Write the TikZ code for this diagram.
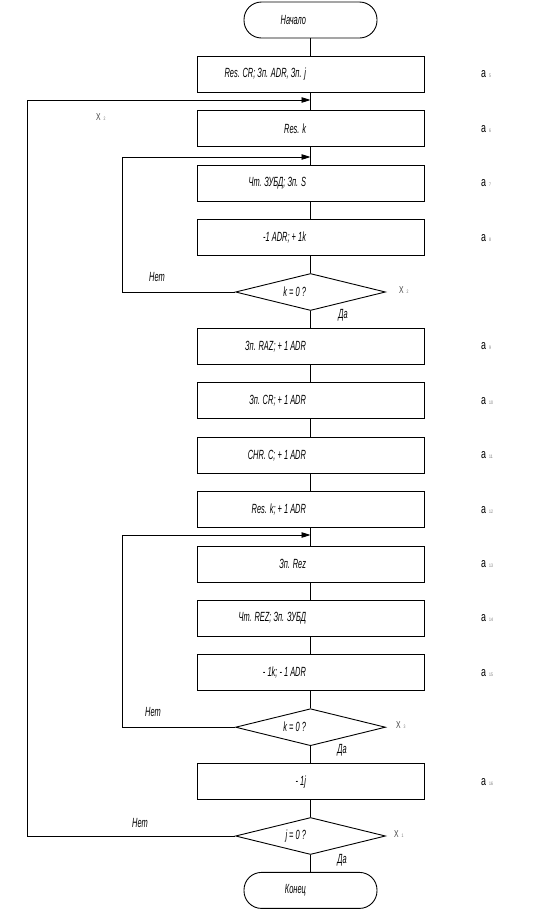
\documentclass[tikz,border=0pt]{standalone}
\usepackage{fontspec}
\setmainfont{Liberation Sans}
\newfontfamily\narrowit[FakeStretch=0.56]{Liberation Sans Italic}
\newfontfamily\narrowup[FakeStretch=0.68]{Liberation Sans}
\usetikzlibrary{shapes.geometric,arrows.meta}
\newcommand{\rtx}[1]{\llap{#1\hspace{4.5pt}}}
\newcommand{\stg}[1]{a\hspace{3pt}{\color{black!55}\fontsize{5}{5}\selectfont #1}}
\newcommand{\xsg}[1]{X\hspace{3pt}{\color{black!55}\fontsize{5}{5}\selectfont #1}}
\tikzset{
  base/.style={draw, line width=0.9pt, inner sep=0pt, font=\narrowit\fontsize{13.3}{13.3}\selectfont},
  procbox/.style={base, rectangle, minimum width=227pt, minimum height=36pt},
  termbox/.style={base, rectangle, rounded corners=17.5pt, minimum width=133pt, minimum height=36pt},
  decbox/.style={base, diamond, aspect=4, minimum width=150pt, minimum height=37pt},
  flow/.style={line width=0.9pt},
  back/.style={line width=0.9pt, -{Triangle[length=9pt,width=5.5pt]}},
  tag/.style={font=\narrowup\fontsize{13}{13}\selectfont, inner sep=0pt, anchor=west},
  xtag/.style={font=\narrowup\fontsize{10}{10}\selectfont, inner sep=0pt, anchor=west, text=black!75},
  ans/.style={font=\narrowit\fontsize{13.3}{13.3}\selectfont, inner sep=0pt},
}
\begin{document}
\begin{tikzpicture}[x=1pt,y=-1pt]
\useasboundingbox (0,0) rectangle (540,911);
% nodes
\node[termbox] (st) at (310.5,20) {\rtx{Начало}};
\node[procbox] (b1) at (310.5,74.4) {\rtx{Res. CR; Зп. ADR, Зп. j}};
\node[procbox] (b2) at (310.5,128.8) {\rtx{Res. k}};
\node[procbox] (b3) at (310.5,183.2) {\rtx{Чт. ЗУБД; Зп. S}};
\node[procbox] (b4) at (310.5,237.6) {\rtx{-1 ADR; + 1k}};
\node[decbox] (d1) at (310.5,292) {\rtx{k = 0 ?}};
\node[procbox] (b5) at (310.5,346.4) {\rtx{Зп. RAZ; + 1 ADR}};
\node[procbox] (b6) at (310.5,400.8) {\rtx{Зп. CR; + 1 ADR}};
\node[procbox] (b7) at (310.5,455.2) {\rtx{CHR. C; + 1 ADR}};
\node[procbox] (b8) at (310.5,509.6) {\rtx{Res. k; + 1 ADR}};
\node[procbox] (b9) at (310.5,564) {\rtx{Зп. Rez}};
\node[procbox] (b10) at (310.5,618.4) {\rtx{Чт. REZ; Зп. ЗУБД}};
\node[procbox] (b11) at (310.5,672.8) {\rtx{- 1k; - 1 ADR}};
\node[decbox] (d2) at (310.5,727.2) {\rtx{k = 0 ?}};
\node[procbox] (b12) at (310.5,781.6) {\rtx{- 1j}};
\node[decbox] (d3) at (310.5,836) {\rtx{j = 0 ?}};
\node[termbox] (en) at (310.5,890.4) {\rtx{Конец}};
% merge points and corners
\coordinate (m1) at (310.5,100);
\coordinate (m2) at (310.5,157);
\coordinate (m3) at (310.5,535);
\coordinate (c1) at (27,100);
\coordinate (c2) at (122,157);
\coordinate (c3) at (122,535);
% main flow
\draw[flow] (st) -- (b1);
\draw[flow] (b1) -- (b2);
\draw[flow] (b2) -- (b3);
\draw[flow] (b3) -- (b4);
\draw[flow] (b4) -- (d1);
\draw[flow] (d1) -- (b5);
\draw[flow] (b5) -- (b6);
\draw[flow] (b6) -- (b7);
\draw[flow] (b7) -- (b8);
\draw[flow] (b8) -- (b9);
\draw[flow] (b9) -- (b10);
\draw[flow] (b10) -- (b11);
\draw[flow] (b11) -- (d2);
\draw[flow] (d2) -- (b12);
\draw[flow] (b12) -- (d3);
\draw[flow] (d3) -- (en);
% loops
\draw[back] (d1.west) -| (c2) -- (m2);
\draw[back] (d2.west) -| (c3) -- (m3);
\draw[back] (d3.west) -| (c1) -- (m1);
% answers
\node[ans] (n1) at (157,277) {Нет};
\node[ans] (y1) at (343,315) {Да};
\node[ans] (n2) at (153,712) {Нет};
\node[ans] (y2) at (342,750) {Да};
\node[ans] (n3) at (140,823) {Нет};
\node[ans] (y3) at (342,860) {Да};
% condition tags
\node[xtag] (x0) at (96,117) {\xsg{2}};
\node[xtag] (x1) at (399,290) {\xsg{2}};
\node[xtag] (x2) at (396,725) {\xsg{3}};
\node[xtag] (x3) at (394,834) {\xsg{1}};
% state tags
\node[tag] (a5) at (481,74.4) {\stg{5}};
\node[tag] (a6) at (481,128.8) {\stg{6}};
\node[tag] (a7) at (481,183.2) {\stg{7}};
\node[tag] (a8) at (481,237.6) {\stg{8}};
\node[tag] (a9) at (481,346.4) {\stg{9}};
\node[tag] (a10) at (481,400.8) {\stg{10}};
\node[tag] (a11) at (481,455.2) {\stg{11}};
\node[tag] (a12) at (481,509.6) {\stg{12}};
\node[tag] (a13) at (481,564) {\stg{13}};
\node[tag] (a14) at (481,618.4) {\stg{14}};
\node[tag] (a15) at (481,672.8) {\stg{15}};
\node[tag] (a16) at (481,781.6) {\stg{16}};
\end{tikzpicture}
\end{document}
